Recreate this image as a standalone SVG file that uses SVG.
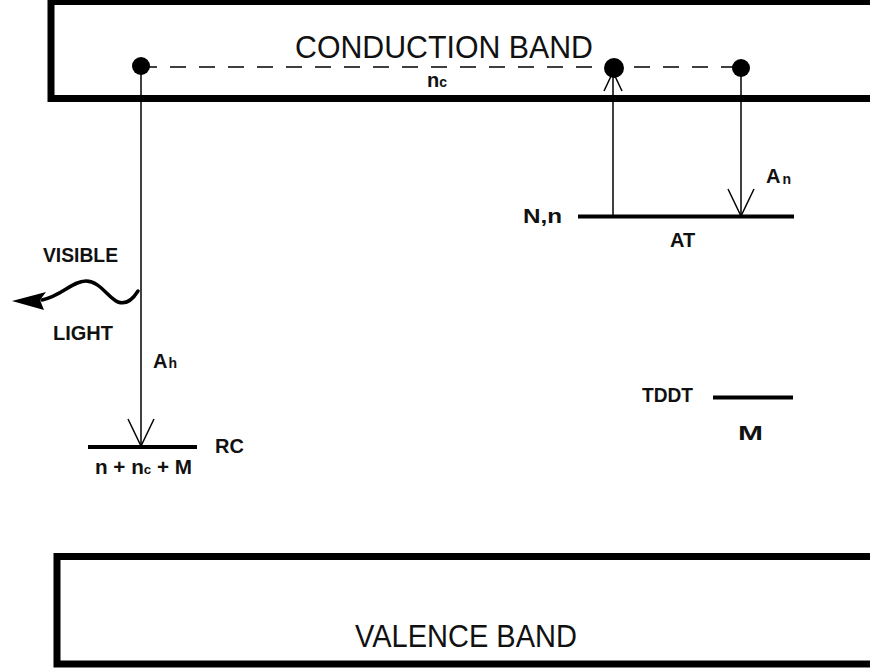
<svg xmlns="http://www.w3.org/2000/svg" width="870" height="671" viewBox="0 0 870 671">
<style>
.band{fill:none;stroke:#000;stroke-width:7}
.band-t{font-family:"Liberation Sans",Arial,sans-serif;font-size:30.5px;fill:#111}
.lbl{font-family:"Liberation Sans",Arial,sans-serif;font-size:20px;font-weight:bold;fill:#111}
.sub{font-size:14px}
.level{stroke:#000;stroke-width:4;fill:none}
.conn{stroke:#000;stroke-width:1.5;fill:none}
.dot{fill:#000}
</style>
<defs>
<marker id="v" viewBox="-30 -15 32 30" refX="0" refY="0" markerWidth="32" markerHeight="30" markerUnits="userSpaceOnUse" orient="auto">
<path d="M-27,-13 L0,0 L-27,13" fill="none" stroke="#000" stroke-width="1.5"/>
</marker>
<marker id="vs" viewBox="-22 -12 24 24" refX="0" refY="0" markerWidth="24" markerHeight="24" markerUnits="userSpaceOnUse" orient="auto">
<path d="M-19,-9 L0,0 L-19,9" fill="none" stroke="#000" stroke-width="1.5"/>
</marker>
</defs>
<rect width="870" height="671" fill="#fff"/>

<g id="conduction-band">
<rect class="band" x="51" y="1.5" width="830" height="97"/>
<text class="band-t" x="295" y="57.5" textLength="298" lengthAdjust="spacingAndGlyphs">CONDUCTION BAND</text>
</g>

<g id="valence-band">
<rect class="band" x="57" y="556.5" width="830" height="107.5"/>
<text class="band-t" x="355" y="647" textLength="222" lengthAdjust="spacingAndGlyphs">VALENCE BAND</text>
</g>

<g id="connectors">
<line class="conn" x1="141" y1="67" x2="741" y2="67" stroke-dasharray="16 13"/>
<line class="conn" x1="141" y1="66" x2="141" y2="446" marker-end="url(#v)"/>
<line class="conn" x1="613" y1="216" x2="613" y2="72" marker-end="url(#vs)"/>
<line class="conn" x1="741" y1="68" x2="741" y2="216" marker-end="url(#v)"/>
</g>

<g id="electron-left"><circle class="dot" cx="141" cy="66" r="9"/></g>
<g id="electron-mid"><circle class="dot" cx="614" cy="68" r="10"/></g>
<g id="electron-right"><circle class="dot" cx="741" cy="68" r="9"/></g>

<g id="nc-label">
<text class="lbl" x="427" y="87" font-size="19">n<tspan class="sub" font-size="13">c</tspan></text>
</g>

<g id="rc-level">
<line class="level" x1="88" y1="447" x2="197" y2="447"/>
<text class="lbl" x="215" y="453">RC</text>
<text class="lbl" x="95" y="474" font-size="18" textLength="97" lengthAdjust="spacingAndGlyphs">n + n<tspan font-size="13">c</tspan> + M</text>
</g>

<g id="ah-label">
<text class="lbl" x="153" y="368">A<tspan class="sub" dx="1">h</tspan></text>
</g>

<g id="at-level">
<line class="level" x1="578" y1="216.5" x2="794" y2="216.5"/>
<text class="lbl" x="523" y="223" textLength="39" lengthAdjust="spacingAndGlyphs">N,n</text>
<text class="lbl" x="670" y="247">AT</text>
</g>

<g id="an-label">
<text class="lbl" x="766" y="183" font-size="21">A<tspan class="sub" dx="2" dy="1">n</tspan></text>
</g>

<g id="tddt-level">
<line class="level" x1="713" y1="397.5" x2="793" y2="397.5"/>
<text class="lbl" x="642" y="402" textLength="51" lengthAdjust="spacingAndGlyphs">TDDT</text>
<text class="lbl" x="738" y="440" textLength="25" lengthAdjust="spacingAndGlyphs">M</text>
</g>

<g id="visible-light">
<text class="lbl" x="43" y="262" textLength="75" lengthAdjust="spacingAndGlyphs">VISIBLE</text>
<text class="lbl" x="53" y="340" textLength="60" lengthAdjust="spacingAndGlyphs">LIGHT</text>
<path d="M138,291 C133,299 126,305 118,302 C108,298 100,281 86,281 C72,281 62,296 42,300" fill="none" stroke="#000" stroke-width="3.5" stroke-linecap="round"/>
<polygon points="12,301 46,292 40,300 44,310" fill="#000"/>
</g>
</svg>
